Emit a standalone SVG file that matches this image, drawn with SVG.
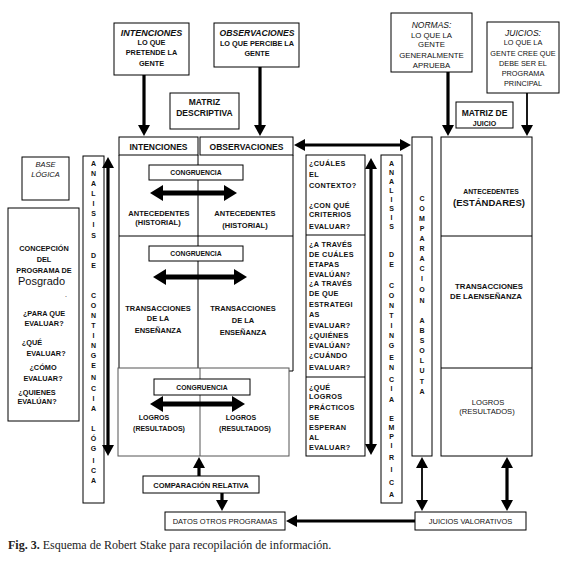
<svg xmlns="http://www.w3.org/2000/svg" width="574" height="563" viewBox="0 0 574 563">
<defs>
<style>
.bx{fill:#fff;stroke:#000;stroke-width:1}
.gl{fill:none;stroke:#000;stroke-width:1}
.lg{fill:none;stroke:#555;stroke-width:1}
text{font-family:"Liberation Sans",Arial,sans-serif;fill:#111}
.b{font-weight:bold}
.c{text-anchor:middle}
.i{font-style:italic;font-weight:bold}
.s7{font-size:7.3px}
.s75{font-size:7.5px}
.s85{font-size:8.5px}
.n{font-weight:normal}
.q{font-size:7.3px;font-weight:bold;letter-spacing:0.3px}
.lt{font-size:7px;font-weight:bold;text-anchor:middle}
.big{stroke:#000;stroke-width:5;fill:none}
.med{stroke:#000;stroke-width:3.2;fill:none}
.thin{stroke:#000;stroke-width:1.8;fill:none}
.cap{font-family:"Liberation Serif","Times New Roman",serif;font-size:12px;fill:#222}
</style>
<marker id="hb" markerUnits="userSpaceOnUse" markerWidth="14" markerHeight="16" viewBox="0 0 14 16" refX="1" refY="8" orient="auto-start-reverse"><path d="M0,0 L13,8 L0,16 z" fill="#000"/></marker>
<marker id="hm" markerUnits="userSpaceOnUse" markerWidth="12" markerHeight="12" viewBox="0 0 12 12" refX="1" refY="6" orient="auto-start-reverse"><path d="M0,0 L11,6 L0,12 z" fill="#000"/></marker>
</defs>
<rect width="574" height="563" fill="#fff"/>

<g id="intenciones-top">
<rect class="bx" x="114" y="23" width="75" height="52"/>
<text class="i c" x="151.5" y="36" font-size="9">INTENCIONES</text>
<text class="b c s7" x="151.5" y="45">LO QUE</text>
<text class="b c s7" x="151.5" y="55">PRETENDE LA</text>
<text class="b c s7" x="151.5" y="66">GENTE</text>
</g>
<g id="observaciones-top">
<rect class="bx" x="214" y="23" width="85" height="44"/>
<text class="i c" x="257" y="36" font-size="8.6">OBSERVACIONES</text>
<text class="b c s7" x="257" y="46">LO QUE PERCIBE LA</text>
<text class="b c s7" x="257" y="56">GENTE</text>
</g>
<g id="matriz-descriptiva">
<rect class="bx" x="170" y="93" width="69" height="36"/>
<text class="b c s85" x="204.5" y="105">MATRIZ</text>
<text class="b c s85" x="204.5" y="116">DESCRIPTIVA</text>
</g>
<g id="normas">
<rect class="bx" x="391" y="13" width="81" height="59"/>
<text class="c" x="431.5" y="28" font-size="8.5" font-style="italic">NORMAS:</text>
<text class="c" x="431.5" y="37.5" font-size="7.8">LO QUE LA</text>
<text class="c" x="431.5" y="47" font-size="7.8">GENTE</text>
<text class="c" x="431.5" y="57.5" font-size="7.8">GENERALMENTE</text>
<text class="c" x="431.5" y="68" font-size="7.8">APRUEBA</text>
</g>
<g id="juicios">
<rect class="bx" x="487" y="22" width="72" height="71"/>
<text class="c" x="523" y="36" font-size="8.5" font-style="italic">JUICIOS:</text>
<text class="c" x="523" y="45" font-size="7.3">LO QUE LA</text>
<text class="c" x="523" y="56" font-size="7.3">GENTE CREE QUE</text>
<text class="c" x="523" y="66" font-size="7.3">DEBE SER EL</text>
<text class="c" x="523" y="76" font-size="7.3">PROGRAMA</text>
<text class="c" x="523" y="86" font-size="7.3">PRINCIPAL</text>
</g>
<g id="matriz-juicio">
<rect class="bx" x="456" y="102" width="57" height="26"/>
<text class="b c s85" x="484.5" y="116">MATRIZ DE</text>
<text class="b c" x="484.5" y="125.5" font-size="7">JUICIO</text>
</g>

<g id="base-logica">
<rect class="bx" x="22" y="157" width="47" height="43"/>
<text class="c" x="45.5" y="167" font-size="7.5" font-style="italic">BASE</text>
<text class="c" x="45.5" y="177" font-size="7.5" font-style="italic">LÓGICA</text>
</g>
<g id="concepcion">
<rect class="bx" x="8" y="208" width="71" height="213"/>
<text class="b c s7" x="44" y="251">CONCEPCIÓN</text>
<text class="b c s7" x="44" y="262">DEL</text>
<text class="b c s7" x="44" y="273">PROGRAMA DE</text>
<text x="18" y="285" font-size="11">Posgrado</text>
<text x="65" y="297" font-size="7">.</text>
<text class="b c s7" x="44" y="316">¿PARA QUE</text>
<text class="b c s7" x="44" y="326">EVALUAR?</text>
<text class="b c s7" x="32" y="345">¿QUÉ</text>
<text class="b c s7" x="46" y="356">EVALUAR?</text>
<text class="b c s7" x="43" y="370">¿CÓMO</text>
<text class="b c s7" x="43" y="381">EVALUAR?</text>
<text class="b c s7" x="37" y="395">¿QUIENES</text>
<text class="b c s7" x="37" y="404">EVALÚAN?</text>
</g>

<g id="contingencia-logica">
<rect class="bx" x="83" y="156" width="21" height="347"/>
<text class="lt" x="93.5" y="165.5">A</text><text class="lt" x="93.5" y="175.5">N</text><text class="lt" x="93.5" y="185.5">A</text><text class="lt" x="93.5" y="195.5">L</text><text class="lt" x="93.5" y="205.5">I</text><text class="lt" x="93.5" y="215.5">S</text><text class="lt" x="93.5" y="226.5">I</text><text class="lt" x="93.5" y="237.5">S</text>
<text class="lt" x="93.5" y="257.5">D</text><text class="lt" x="93.5" y="267.5">E</text>
<text class="lt" x="93.5" y="297.5">C</text><text class="lt" x="93.5" y="307.5">O</text><text class="lt" x="93.5" y="317.5">N</text><text class="lt" x="93.5" y="327.5">T</text><text class="lt" x="93.5" y="337.5">I</text><text class="lt" x="93.5" y="347.5">N</text><text class="lt" x="93.5" y="357.5">G</text><text class="lt" x="93.5" y="367.5">E</text><text class="lt" x="93.5" y="379.5">N</text><text class="lt" x="93.5" y="390.5">C</text><text class="lt" x="93.5" y="400.5">I</text><text class="lt" x="93.5" y="410.5">A</text>
<text class="lt" x="93.5" y="430.5">L</text><text class="lt" x="93.5" y="440.5">Ó</text><text class="lt" x="93.5" y="450.5">G</text><text class="lt" x="93.5" y="462.5">I</text><text class="lt" x="93.5" y="472.5">C</text><text class="lt" x="93.5" y="482.5">A</text>
</g>

<g id="matriz-descriptiva-grid">
<rect class="bx" x="119" y="137" width="79" height="18"/>
<rect class="bx" x="200" y="137" width="93" height="18"/>
<text class="b c" x="158.5" y="149.5" font-size="8.5">INTENCIONES</text>
<text class="b c" x="246.5" y="149.5" font-size="8.5">OBSERVACIONES</text>
<path class="gl" d="M119,155 V368 M293,155 V371 H289 M198,155 V368 M119,236 H293"/>
<rect class="bx" x="149" y="165" width="94" height="15"/>
<text class="b c" x="196" y="175" font-size="6.8">CONGRUENCIA</text>
<text class="b c s75" x="159" y="216">ANTECEDENTES</text>
<text class="b c s75" x="158" y="225">(HISTORIAL)</text>
<text class="b c s75" x="245" y="216">ANTECEDENTES</text>
<text class="b c s75" x="245" y="228">(HISTORIAL)</text>
<rect class="bx" x="149" y="246" width="94" height="15"/>
<text class="b c" x="196" y="256" font-size="6.8">CONGRUENCIA</text>
<text class="b c s75" x="158" y="311">TRANSACCIONES</text>
<text class="b c s75" x="158" y="321">DE LA</text>
<text class="b c s75" x="158" y="333">ENSEÑANZA</text>
<text class="b c s75" x="243" y="311">TRANSACCIONES</text>
<text class="b c s75" x="243" y="323">DE LA</text>
<text class="b c s75" x="243" y="335">ENSEÑANZA</text>
</g>
<g id="logros-grid">
<rect class="bx" x="118" y="368" width="171" height="88" style="stroke:#555"/>
<path class="lg" d="M200,368 V456"/>
<rect class="bx" x="154" y="379" width="96" height="16"/>
<text class="b c" x="202" y="390" font-size="6.8">CONGRUENCIA</text>
<text class="b c" x="154" y="420" font-size="7">LOGROS</text>
<text class="b c" x="159" y="431" font-size="7">(RESULTADOS)</text>
<text class="b c" x="241" y="420" font-size="7">LOGROS</text>
<text class="b c" x="245" y="431" font-size="7">(RESULTADOS)</text>
</g>

<g id="preguntas">
<rect class="bx" x="306" y="155" width="59" height="301"/>
<path class="gl" d="M306,235 H365 M306,377 H365"/>
<text class="q" x="309" y="166">¿CUÁLES</text>
<text class="q" x="309" y="177">EL</text>
<text class="q" x="309" y="188">CONTEXTO?</text>
<text class="q" x="309" y="208">¿CON QUÉ</text>
<text class="q" x="309" y="217">CRITERIOS</text>
<text class="q" x="309" y="229">EVALUAR?</text>
<text class="q" x="309" y="247">¿A TRAVÉS</text>
<text class="q" x="309" y="257">DE CUÁLES</text>
<text class="q" x="309" y="267">ETAPAS</text>
<text class="q" x="309" y="277">EVALÚAN?</text>
<text class="q" x="309" y="286">¿A TRAVÉS</text>
<text class="q" x="309" y="296">DE QUE</text>
<text class="q" x="309" y="307">ESTRATEGI</text>
<text class="q" x="309" y="317">AS</text>
<text class="q" x="309" y="328">EVALUAR?</text>
<text class="q" x="309" y="338">¿QUIÉNES</text>
<text class="q" x="309" y="348">EVALÚAN?</text>
<text class="q" x="309" y="358">¿CUÁNDO</text>
<text class="q" x="309" y="370">EVALUAR?</text>
<text class="q" x="309" y="390">¿QUÉ</text>
<text class="q" x="309" y="399">LOGROS</text>
<text class="q" x="309" y="410">PRÁCTICOS</text>
<text class="q" x="309" y="420">SE</text>
<text class="q" x="309" y="430">ESPERAN</text>
<text class="q" x="309" y="440">AL</text>
<text class="q" x="309" y="450">EVALUAR?</text>
</g>

<g id="contingencia-empirica">
<rect class="bx" x="381" y="155" width="21" height="348"/>
<text class="lt" x="391.5" y="165.5">A</text><text class="lt" x="391.5" y="174.5">N</text><text class="lt" x="391.5" y="183.5">A</text><text class="lt" x="391.5" y="192.5">L</text><text class="lt" x="391.5" y="201.5">I</text><text class="lt" x="391.5" y="210.5">S</text><text class="lt" x="391.5" y="219.5">I</text><text class="lt" x="391.5" y="228.5">S</text>
<text class="lt" x="391.5" y="256.5">D</text><text class="lt" x="391.5" y="266.5">E</text>
<text class="lt" x="391.5" y="287.5">C</text><text class="lt" x="391.5" y="297.5">O</text><text class="lt" x="391.5" y="307.5">N</text><text class="lt" x="391.5" y="317.5">T</text><text class="lt" x="391.5" y="327.5">I</text><text class="lt" x="391.5" y="337.5">N</text><text class="lt" x="391.5" y="347.5">G</text><text class="lt" x="391.5" y="359.5">E</text><text class="lt" x="391.5" y="369.5">N</text><text class="lt" x="391.5" y="381.5">C</text><text class="lt" x="391.5" y="390.5">I</text><text class="lt" x="391.5" y="401.5">A</text>
<text class="lt" x="391.5" y="420.5">E</text><text class="lt" x="391.5" y="429.5">M</text><text class="lt" x="391.5" y="438.5">P</text><text class="lt" x="391.5" y="447.5">I</text><text class="lt" x="391.5" y="459.5">R</text><text class="lt" x="391.5" y="471.5">I</text><text class="lt" x="391.5" y="484.5">C</text><text class="lt" x="391.5" y="496.5">A</text>
</g>

<g id="comparacion-absoluta">
<rect class="bx" x="412" y="137" width="20" height="319"/>
<text class="lt" x="422" y="200.5">C</text><text class="lt" x="422" y="210.5">O</text><text class="lt" x="422" y="220.5">M</text><text class="lt" x="422" y="230.5">P</text><text class="lt" x="422" y="240.5">A</text><text class="lt" x="422" y="250.5">R</text><text class="lt" x="422" y="260.5">A</text><text class="lt" x="422" y="270.5">C</text><text class="lt" x="422" y="280.5">I</text><text class="lt" x="422" y="291.5">O</text><text class="lt" x="422" y="302.5">N</text>
<text class="lt" x="422" y="322.5">A</text><text class="lt" x="422" y="332.5">B</text><text class="lt" x="422" y="342.5">S</text><text class="lt" x="422" y="352.5">O</text><text class="lt" x="422" y="362.5">L</text><text class="lt" x="422" y="372.5">U</text><text class="lt" x="422" y="383.5">T</text><text class="lt" x="422" y="393.5">A</text>
</g>

<g id="matriz-juicio-grid">
<rect class="bx" x="441" y="137" width="91" height="319"/>
<path class="gl" d="M441,236 H532 M441,368 H532"/>
<text class="b c" x="491" y="194" font-size="6.8">ANTECEDENTES</text>
<text class="b c" x="489" y="205.5" font-size="9.5">(ESTÁNDARES)</text>
<text class="b c" x="489" y="289" font-size="7.8">TRANSACCIONES</text>
<text class="b c" x="486" y="299" font-size="7.8">DE LAENSEÑANZA</text>
<text class="c" x="488" y="405" font-size="7.6">LOGROS</text>
<text class="c" x="487" y="414" font-size="7.6">(RESULTADOS)</text>
</g>

<g id="comparacion-relativa">
<rect class="bx" x="143" y="476" width="116" height="17"/>
<text class="b c s75" x="201" y="487.5">COMPARACIÓN RELATIVA</text>
</g>
<g id="datos-otros">
<rect class="bx" x="165" y="512" width="120" height="18"/>
<text class="c" x="225" y="524" font-size="7.5">DATOS OTROS PROGRAMAS</text>
</g>
<g id="juicios-valorativos">
<rect class="bx" x="415" y="512" width="111" height="18"/>
<text class="c" x="470.5" y="524" font-size="7.5">JUICIOS VALORATIVOS</text>
</g>

<g id="connectors">
<line class="med" x1="144" y1="75" x2="144" y2="126" marker-end="url(#hm)"/>
<line class="med" x1="260" y1="67" x2="260" y2="126" marker-end="url(#hm)"/>
<line class="med" x1="448" y1="72" x2="448" y2="126" marker-end="url(#hm)"/>
<line class="thin" x1="527" y1="93" x2="527" y2="126" marker-end="url(#hm)"/>
<line class="big" x1="162" y1="193" x2="225" y2="193" marker-start="url(#hb)" marker-end="url(#hb)"/>
<line class="big" x1="165" y1="277" x2="235" y2="277" marker-start="url(#hb)" marker-end="url(#hb)"/>
<line class="big" x1="162" y1="404" x2="233" y2="404" marker-start="url(#hb)" marker-end="url(#hb)"/>
<line class="med" x1="108" y1="167" x2="108" y2="446" marker-start="url(#hm)" marker-end="url(#hm)"/>
<line class="med" x1="371" y1="168" x2="371" y2="445" marker-start="url(#hm)" marker-end="url(#hm)"/>
<line class="med" x1="304" y1="145" x2="401" y2="145" marker-start="url(#hm)" marker-end="url(#hm)"/>
<line class="med" x1="199" y1="476" x2="199" y2="467" marker-end="url(#hm)"/>
<line class="med" x1="222" y1="493" x2="222" y2="501" marker-end="url(#hm)"/>
<line class="med" x1="415" y1="521" x2="296" y2="521" marker-end="url(#hm)"/>
<line class="thin" x1="422" y1="467" x2="422" y2="501" marker-start="url(#hm)" marker-end="url(#hm)"/>
<line class="med" x1="507" y1="467" x2="507" y2="501" marker-start="url(#hm)" marker-end="url(#hm)"/>
</g>

<text class="cap" x="8" y="549"><tspan font-weight="bold">Fig. 3.</tspan> Esquema de Robert Stake para recopilación de información.</text>
</svg>
